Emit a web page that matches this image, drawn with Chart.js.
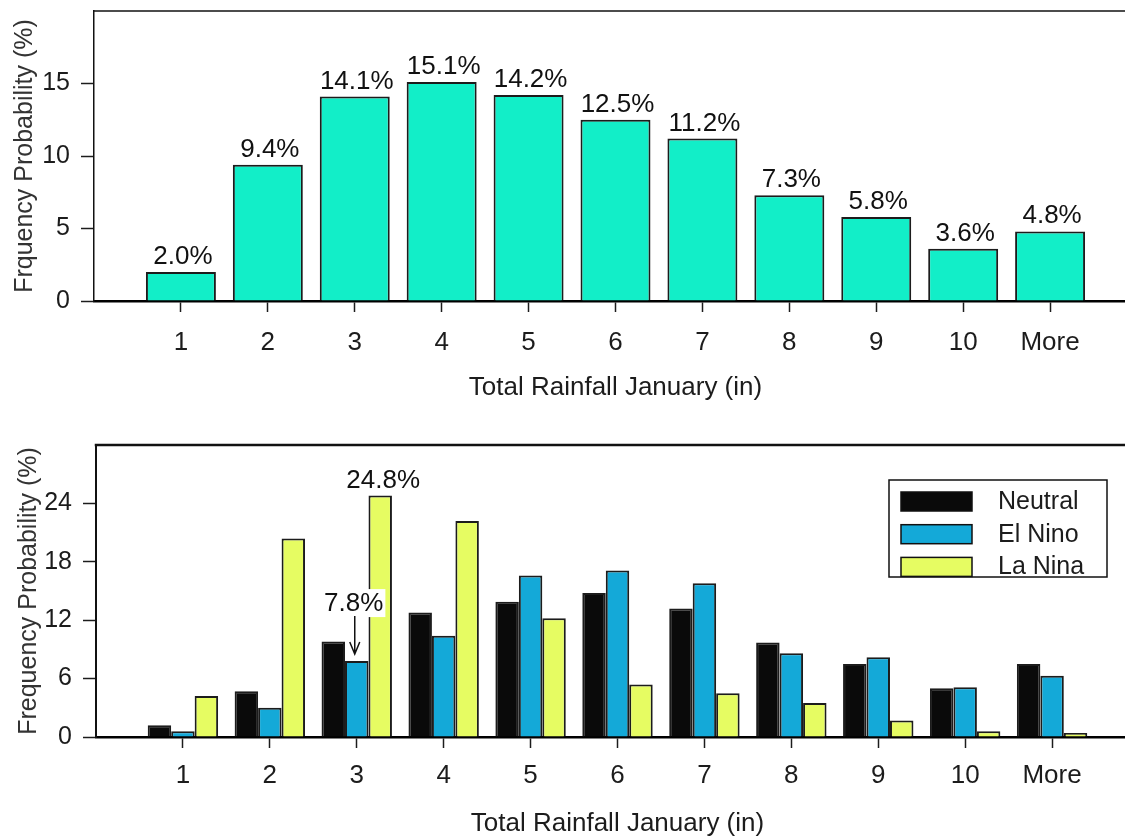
<!DOCTYPE html>
<html>
<head>
<meta charset="utf-8">
<title>Total Rainfall January</title>
<script src="https://cdn.jsdelivr.net/npm/chart.js@4.4.1/dist/chart.umd.min.js"></script>
<style>
  html, body { margin: 0; padding: 0; background: #fff; overflow: hidden; width: 1125px; height: 836px; }
  canvas { position: absolute; left: 0; }
  #graficoTotal { top: 0; }
  #graficoEnso { top: 430px; }
</style>
</head>
<body>
<canvas id="graficoTotal" width="1137" height="420"></canvas>
<canvas id="graficoEnso" width="1139" height="420"></canvas>
<script>
// datos
const categorias = ['1', '2', '3', '4', '5', '6', '7', '8', '9', '10', 'More'];
const probTotal = [2.0, 9.4, 14.1, 15.1, 14.2, 12.5, 11.2, 7.3, 5.8, 3.6, 4.8];
const probNeutral = [1.2, 4.7, 9.8, 12.8, 13.9, 14.8, 13.2, 9.7, 7.5, 5.0, 7.5];
const probNino = [0.6, 3.0, 7.8, 10.4, 16.6, 17.1, 15.8, 8.6, 8.2, 5.1, 6.3];
const probNina = [4.2, 20.4, 24.8, 22.2, 12.2, 5.4, 4.5, 3.5, 1.7, 0.6, 0.4];
const ticksTotal = [0, 5, 10, 15];
const ticksEnso = [0, 6, 12, 18, 24];
// valores marcados a mano en el grafico de abajo
const notas = [
	{ serie: 2, categoria: '3', flecha: false },
	{ serie: 1, categoria: '3', flecha: true }
];

const FUENTE = "'Liberation Sans', Arial, Helvetica, sans-serif";
const TINTA = '#1c1c1c';

// un hueco vacio a cada lado, como en el original
const etiquetas = ['', ...categorias, ''];
const rellenar = (arr) => [null, ...arr, null];
const pct = (v) => v.toFixed(1) + '%';

const ejeX = (alto, padTick, padTitulo) => ({
	type: 'category',
	offset: false,
	grid: {
		offset: false,
		drawOnChartArea: false,
		tickLength: 11,
		tickWidth: 1.5,
		tickColor: (c) => (c.tick && c.tick.label === '' ? 'rgba(0,0,0,0)' : TINTA)
	},
	border: { display: true, color: '#000', width: 2.5 },
	ticks: {
		color: TINTA,
		font: { family: FUENTE, size: 26 },
		padding: padTick,
		maxRotation: 0,
		autoSkip: false
	},
	title: {
		display: true,
		text: 'Total Rainfall January (in)',
		color: TINTA,
		font: { family: FUENTE, size: 26 },
		padding: { top: 0, bottom: padTitulo }
	},
	afterFit: (eje) => {
		eje.height = alto;
		eje.paddingLeft = 0;
		eje.paddingRight = 0;
	}
});

const ejeY = (max, marcas, titulo, ancho, padTitulo, grosor) => ({
	min: 0,
	max: max,
	afterBuildTicks: (eje) => {
		eje.ticks = marcas.map((v) => ({ value: v }));
	},
	grid: { drawOnChartArea: false, tickLength: 13, tickWidth: 1.5, tickColor: TINTA },
	border: { display: true, color: '#111', width: grosor },
	ticks: { color: TINTA, font: { family: FUENTE, size: 25 }, padding: 11 },
	title: {
		display: true,
		text: titulo,
		color: '#333',
		font: { family: FUENTE, size: 25 },
		padding: { top: padTitulo, bottom: 0 }
	},
	afterFit: (eje) => {
		eje.width = ancho;
		eje.paddingTop = 0;
		eje.paddingBottom = 0;
	}
});

const bordeSuperior = (grosor) => ({
	id: 'bordeSuperior',
	afterDraw(chart) {
		const { ctx, chartArea } = chart;
		ctx.save();
		ctx.strokeStyle = '#111';
		ctx.lineWidth = grosor;
		ctx.beginPath();
		ctx.moveTo(chartArea.left - grosor / 2, chartArea.top);
		ctx.lineTo(chart.width, chartArea.top);
		ctx.stroke();
		ctx.restore();
	}
});

const etiquetasBarras = {
	id: 'etiquetasBarras',
	afterDatasetsDraw(chart) {
		const { ctx } = chart;
		const meta = chart.getDatasetMeta(0);
		const valores = chart.data.datasets[0].data;
		ctx.save();
		ctx.font = '26px ' + FUENTE;
		ctx.fillStyle = '#111';
		ctx.textAlign = 'center';
		ctx.textBaseline = 'alphabetic';
		meta.data.forEach((barra, i) => {
			if (valores[i] == null) return;
			ctx.fillText(pct(valores[i]), barra.x + 2, barra.y - 8);
		});
		ctx.restore();
	}
};

const leyendaCaja = {
	id: 'leyendaCaja',
	afterDraw(chart) {
		const { ctx, chartArea } = chart;
		const x0 = chartArea.right - 250;
		const y0 = chartArea.top + 35;
		ctx.save();
		ctx.fillStyle = '#fff';
		ctx.fillRect(x0, y0, 218, 97);
		ctx.strokeStyle = '#111';
		ctx.lineWidth = 1.5;
		ctx.strokeRect(x0, y0, 218, 97);
		ctx.font = '25px ' + FUENTE;
		ctx.textBaseline = 'middle';
		ctx.textAlign = 'left';
		chart.data.datasets.forEach((ds, i) => {
			const y = y0 + 12 + i * 32.7;
			ctx.fillStyle = ds.backgroundColor;
			ctx.fillRect(x0 + 12, y, 71, 19);
			ctx.strokeStyle = '#111';
			ctx.strokeRect(x0 + 12, y, 71, 19);
			ctx.fillStyle = TINTA;
			ctx.fillText(ds.label, x0 + 109, y + 10);
		});
		ctx.restore();
	}
};

const anotaciones = {
	id: 'anotaciones',
	afterDatasetsDraw(chart) {
		const { ctx } = chart;
		ctx.save();
		ctx.font = '26px ' + FUENTE;
		ctx.textAlign = 'center';
		ctx.textBaseline = 'alphabetic';
		notas.forEach((n) => {
			const idx = etiquetas.indexOf(n.categoria);
			const barra = chart.getDatasetMeta(n.serie).data[idx];
			const texto = pct(chart.data.datasets[n.serie].data[idx]);
			if (!n.flecha) {
				ctx.fillStyle = '#111';
				ctx.fillText(texto, barra.x + 3, barra.y - 8);
				return;
			}
			const ancho = ctx.measureText(texto).width;
			const tx = barra.x - 3;
			const ty = barra.y - 50;
			ctx.fillStyle = '#fff';
			ctx.fillRect(tx - ancho / 2 - 2, ty - 22, ancho + 4, 28);
			ctx.fillStyle = '#111';
			ctx.fillText(texto, tx, ty);
			// flecha hacia la barra
			const fx = barra.x - 2;
			const fy = barra.y - 7;
			ctx.strokeStyle = '#111';
			ctx.lineWidth = 1.5;
			ctx.beginPath();
			ctx.moveTo(fx, ty + 5);
			ctx.lineTo(fx, fy);
			ctx.moveTo(fx - 5, fy - 12);
			ctx.lineTo(fx, fy);
			ctx.lineTo(fx + 5, fy - 12);
			ctx.stroke();
		});
		ctx.restore();
	}
};

const graficoTotal = new Chart(document.getElementById('graficoTotal'), {
	type: 'bar',
	data: {
		labels: etiquetas,
		datasets: [
			{
				label: 'Total',
				data: rellenar(probTotal),
				backgroundColor: '#12EEC8',
				borderColor: TINTA,
				borderWidth: 2,
				categoryPercentage: 0.805,
				barPercentage: 1
			}
		]
	},
	options: {
		responsive: false,
		animation: false,
		devicePixelRatio: 1,
		layout: { padding: { top: 11, right: 0, bottom: 0, left: 0 } },
		plugins: { legend: { display: false }, tooltip: { enabled: false } },
		scales: {
			x: ejeX(119, 15, 17),
			y: ejeY(20, ticksTotal, 'Frquency Probability (%)', 94, 10, 1.5)
		}
	},
	plugins: [bordeSuperior(1.5), etiquetasBarras]
});

const graficoEnso = new Chart(document.getElementById('graficoEnso'), {
	type: 'bar',
	data: {
		labels: etiquetas,
		datasets: [
			{ label: 'Neutral', data: rellenar(probNeutral), backgroundColor: '#0a0a0a' },
			{ label: 'El Nino', data: rellenar(probNino), backgroundColor: '#14A9D8' },
			{ label: 'La Nina', data: rellenar(probNina), backgroundColor: '#E6FC62' }
		].map((ds) => ({
			...ds,
			borderColor: TINTA,
			borderWidth: 2,
			categoryPercentage: 0.81,
			barPercentage: 1
		}))
	},
	options: {
		responsive: false,
		animation: false,
		devicePixelRatio: 1,
		layout: { padding: { top: 15, right: 0, bottom: 0, left: 0 } },
		plugins: { legend: { display: false }, tooltip: { enabled: false } },
		scales: {
			x: ejeX(113, 12, 11),
			y: ejeY(30, ticksEnso, 'Frequency Probability (%)', 96, 14, 2)
		}
	},
	plugins: [bordeSuperior(2.5), leyendaCaja, anotaciones]
});
</script>
</body>
</html>
